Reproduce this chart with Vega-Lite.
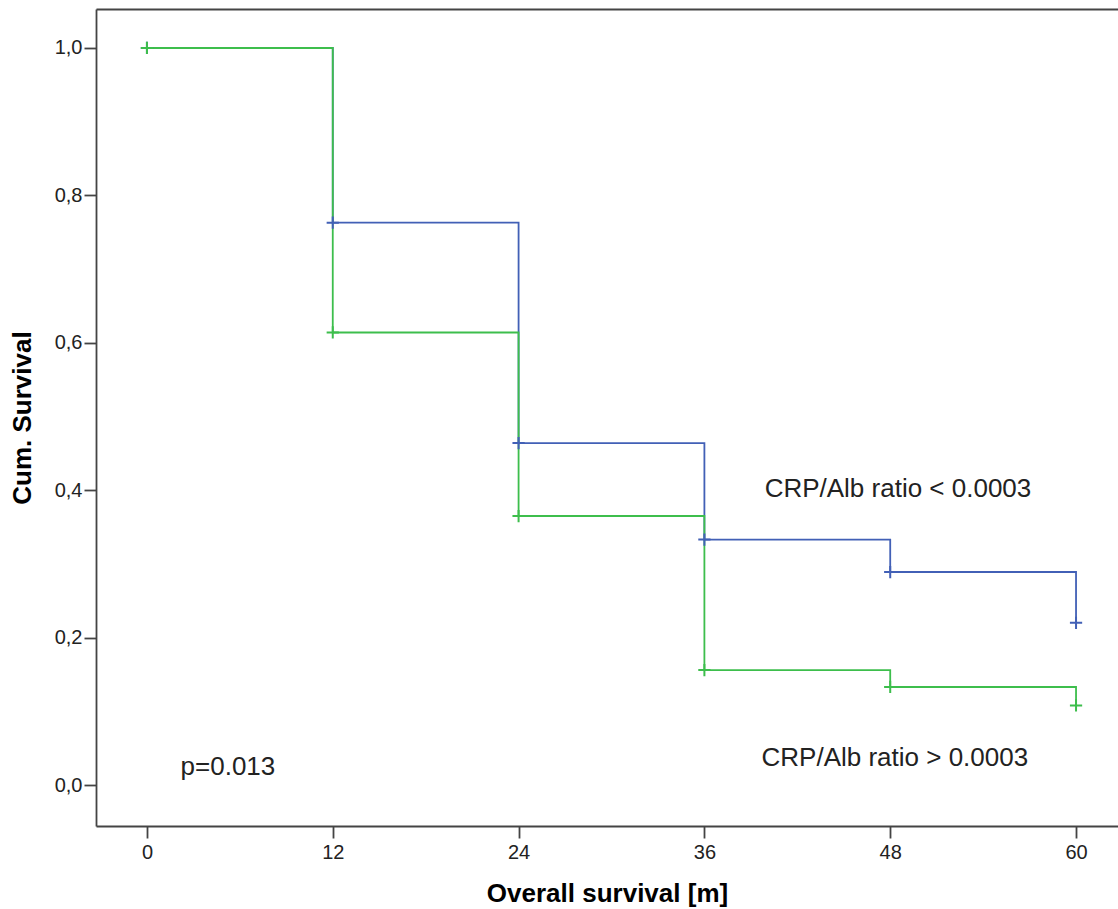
{
  "$schema": "https://vega.github.io/schema/vega-lite/v6.json",
  "width": 1022,
  "height": 817,
  "autosize": "none",
  "padding": {"left": 96, "top": 9, "right": 0, "bottom": 83},
  "background": "white",
  "config": {
    "view": {"stroke": null},
    "font": "Liberation Sans",
    "axis": {
      "grid": false,
      "labelFont": "Liberation Sans",
      "labelFontSize": 20,
      "labelColor": "#222222",
      "tickColor": "#444444",
      "tickSize": 12,
      "tickWidth": 1.8,
      "domainColor": "#444444",
      "domainWidth": 1.8,
      "titleFont": "Liberation Sans",
      "titleFontWeight": "bold",
      "titleFontSize": 26,
      "titleColor": "#000000"
    }
  },
  "datasets": {
    "km": [
      {"group": "low", "t": 0, "s": 1.0},
      {"group": "low", "t": 12, "s": 0.763},
      {"group": "low", "t": 24, "s": 0.464},
      {"group": "low", "t": 36, "s": 0.333},
      {"group": "low", "t": 48, "s": 0.289},
      {"group": "low", "t": 60, "s": 0.22},
      {"group": "high", "t": 0, "s": 1.0},
      {"group": "high", "t": 12, "s": 0.614},
      {"group": "high", "t": 24, "s": 0.365},
      {"group": "high", "t": 36, "s": 0.156},
      {"group": "high", "t": 48, "s": 0.133},
      {"group": "high", "t": 60, "s": 0.108}
    ],
    "notes": [
      {"label": "CRP/Alb ratio < 0.0003", "t": 48.5, "s": 0.391},
      {"label": "CRP/Alb ratio > 0.0003", "t": 48.3, "s": 0.026},
      {"label": "p=0.013", "t": 5.23, "s": 0.014}
    ]
  },
  "data": {"name": "km"},
  "resolve": {"axis": {"x": "independent", "y": "independent"}},
  "layer": [
    {
      "transform": [{"filter": "datum.group === 'low'"}],
      "mark": {"type": "line", "interpolate": "step-after", "color": "#4260b6", "strokeWidth": 1.8},
      "encoding": {
        "x": {"field": "t", "type": "quantitative", "scale": {"domain": [-3.29, 62.71], "nice": false, "zero": false},
          "axis": {"orient": "bottom", "values": [0, 12, 24, 36, 48, 60], "labelPadding": 4, "titlePadding": 18, "title": "Overall survival [m]"}},
        "y": {"field": "s", "type": "quantitative", "scale": {"domain": [-0.0556, 1.0529], "nice": false, "zero": false},
          "axis": {"orient": "left", "values": [0, 0.2, 0.4, 0.6, 0.8, 1.0], "labelExpr": "replace(format(datum.value, '.1f'), '.', ',')", "labelPadding": 2, "titlePadding": 19, "title": "Cum. Survival"}}
      }
    },
    {
      "transform": [{"filter": "datum.group === 'high'"}],
      "mark": {"type": "line", "interpolate": "step-after", "color": "#3dbe4c", "strokeWidth": 1.8},
      "encoding": {
        "x": {"field": "t", "type": "quantitative", "axis": {"orient": "top", "labels": false, "ticks": false, "title": null}},
        "y": {"field": "s", "type": "quantitative", "axis": null}
      }
    },
    {
      "transform": [{"filter": "datum.group === 'low'"}],
      "mark": {"type": "point", "shape": "M-1,0H1M0,-1V1", "filled": false, "size": 150, "strokeWidth": 2, "color": "#4260b6", "opacity": 1},
      "encoding": {
        "x": {"field": "t", "type": "quantitative", "axis": null},
        "y": {"field": "s", "type": "quantitative", "axis": null}
      }
    },
    {
      "transform": [{"filter": "datum.group === 'high'"}],
      "mark": {"type": "point", "shape": "M-1,0H1M0,-1V1", "filled": false, "size": 150, "strokeWidth": 2, "color": "#3dbe4c", "opacity": 1},
      "encoding": {
        "x": {"field": "t", "type": "quantitative", "axis": null},
        "y": {"field": "s", "type": "quantitative", "axis": null}
      }
    },
    {
      "data": {"name": "notes"},
      "mark": {"type": "text", "font": "Liberation Sans", "fontSize": 26, "color": "#222222", "align": "center", "baseline": "alphabetic"},
      "encoding": {
        "x": {"field": "t", "type": "quantitative", "axis": null},
        "y": {"field": "s", "type": "quantitative", "axis": null},
        "text": {"field": "label"}
      }
    }
  ]
}
